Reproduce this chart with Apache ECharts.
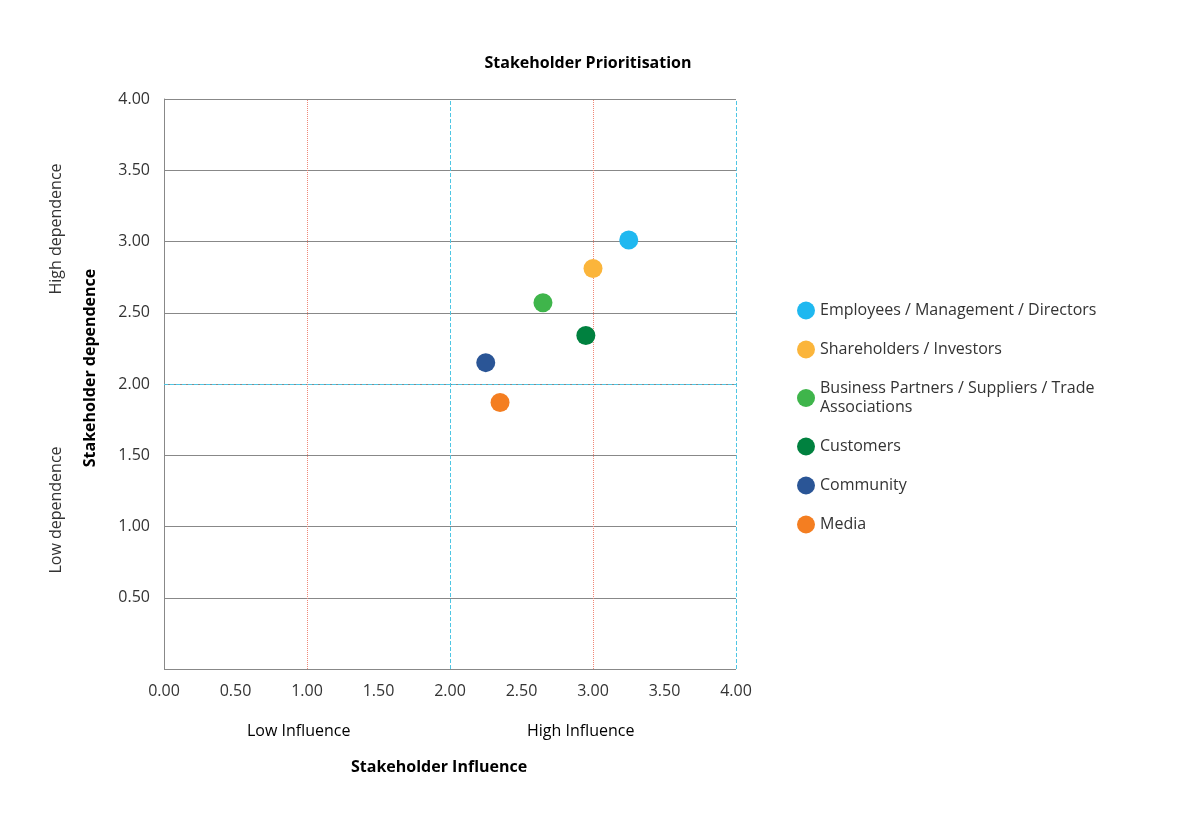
<!DOCTYPE html>
<html>
<head>
<meta charset="utf-8">
<title>Stakeholder Prioritisation</title>
<script src="https://cdn.jsdelivr.net/npm/echarts@6/dist/echarts.min.js"></script>
</head>
<body style="margin:0;background:#fff">
<div id="main" style="width:1191px;height:825px;"></div>
<script type="text/javascript">
var stakeholders = ['Employees / Management / Directors', 'Shareholders / Investors',
    'Business Partners / Suppliers / Trade\nAssociations', 'Customers', 'Community', 'Media'];
var influence = [3.25, 3.0, 2.65, 2.95, 2.25, 2.35];
var dependence = [3.01, 2.81, 2.57, 2.34, 2.15, 1.87];
var colors = ['#1fb8f0', '#fbb53b', '#3fb54b', '#00813f', '#2a5596', '#f47e21'];
var quadrants = [[1, 3.35, 'Consult/involve'], [3, 3.35, 'Collaborate/empower'],
    [1, 1.3, 'Keep Informed'], [3, 1.3, 'Inform/engage']];

var myChart = echarts.init(document.getElementById('main'));
var font = '"Open Sans", Lato, sans-serif';

var series = [];
for (var i = 0; i < stakeholders.length; i++) {
    series.push({
        name: stakeholders[i], type: 'scatter', symbolSize: 19,
        itemStyle: { color: colors[i], opacity: 1 },
        data: [[influence[i], dependence[i]]], z: 5
    });
}
// guide lines: salmon dotted at 1 and 3, cyan dashed at 2 / 4
series.push({
    type: 'line', data: [], silent: true,
    markLine: {
        symbol: 'none', silent: true, label: { show: false },
        lineStyle: { color: '#f08878', type: 'dotted', width: 1, opacity: 1 },
        data: [{ xAxis: 1 }, { xAxis: 3 }]
    }
});
series.push({
    type: 'line', data: [], silent: true,
    markLine: {
        symbol: 'none', silent: true, label: { show: false },
        lineStyle: { color: '#4fc6e4', type: 'dashed', width: 1, opacity: 1 },
        data: [{ xAxis: 2 }, { xAxis: 4 }, { yAxis: 2 }]
    }
});
// quadrant labels
series.push({
    type: 'scatter', symbolSize: 1, silent: true,
    itemStyle: { opacity: 0 },
    data: quadrants.map(function (q) { return { value: [q[0], q[1]], name: q[2] }; }),
    label: { show: true, position: 'inside', formatter: '{b}', color: '#000', fontWeight: 'bold', fontSize: 16, fontFamily: font }
});

var option = {
    textStyle: { fontFamily: font },
    title: { text: 'Stakeholder Prioritisation', left: 583, top: 50, textAlign: 'center',
        textStyle: { fontSize: 16, fontWeight: 'bold', color: '#000', fontFamily: font } },
    grid: { left: 164, top: 99, width: 572, height: 570 },
    legend: {
        orient: 'vertical', left: 792, top: 296, itemGap: 20, icon: 'circle',
        itemWidth: 18, itemHeight: 18,
        data: stakeholders,
        textStyle: { fontSize: 16, color: '#333', fontFamily: font, lineHeight: 19 }
    },
    xAxis: {
        type: 'value', min: 0, max: 4, interval: 0.5,
        axisLine: { show: false }, axisTick: { show: false }, splitLine: { show: false },
        axisLabel: { formatter: function (v) { return v.toFixed(2); }, color: '#333', fontSize: 16, margin: 14 }
    },
    yAxis: {
        type: 'value', min: 0, max: 4, interval: 0.5,
        axisLine: { show: true, lineStyle: { color: '#888' } }, axisTick: { show: false },
        splitLine: { lineStyle: { color: '#888' } },
        axisLabel: { formatter: function (v) { return v === 0 ? '' : v.toFixed(2); }, color: '#333', fontSize: 16, margin: 14 }
    },
    graphic: [
        { type: 'text', left: 247, top: 723, style: { text: 'Low Influence', font: '16px ' + font, fill: '#000' } },
        { type: 'text', left: 527, top: 723, style: { text: 'High Influence', font: '16px ' + font, fill: '#000' } },
        { type: 'text', left: 351, top: 759, style: { text: 'Stakeholder Influence', font: 'bold 16px ' + font, fill: '#000' } },
        { type: 'text', x: 90, y: 368, rotation: Math.PI / 2, style: { text: 'Stakeholder dependence', font: 'bold 16px ' + font, fill: '#000', align: 'center', verticalAlign: 'middle' } },
        { type: 'text', x: 56, y: 229, rotation: Math.PI / 2, style: { text: 'High dependence', font: '16px ' + font, fill: '#333', align: 'center', verticalAlign: 'middle' } },
        { type: 'text', x: 56, y: 510, rotation: Math.PI / 2, style: { text: 'Low dependence', font: '16px ' + font, fill: '#333', align: 'center', verticalAlign: 'middle' } }
    ],
    series: series
};
myChart.setOption(option);
</script>
</body>
</html>
